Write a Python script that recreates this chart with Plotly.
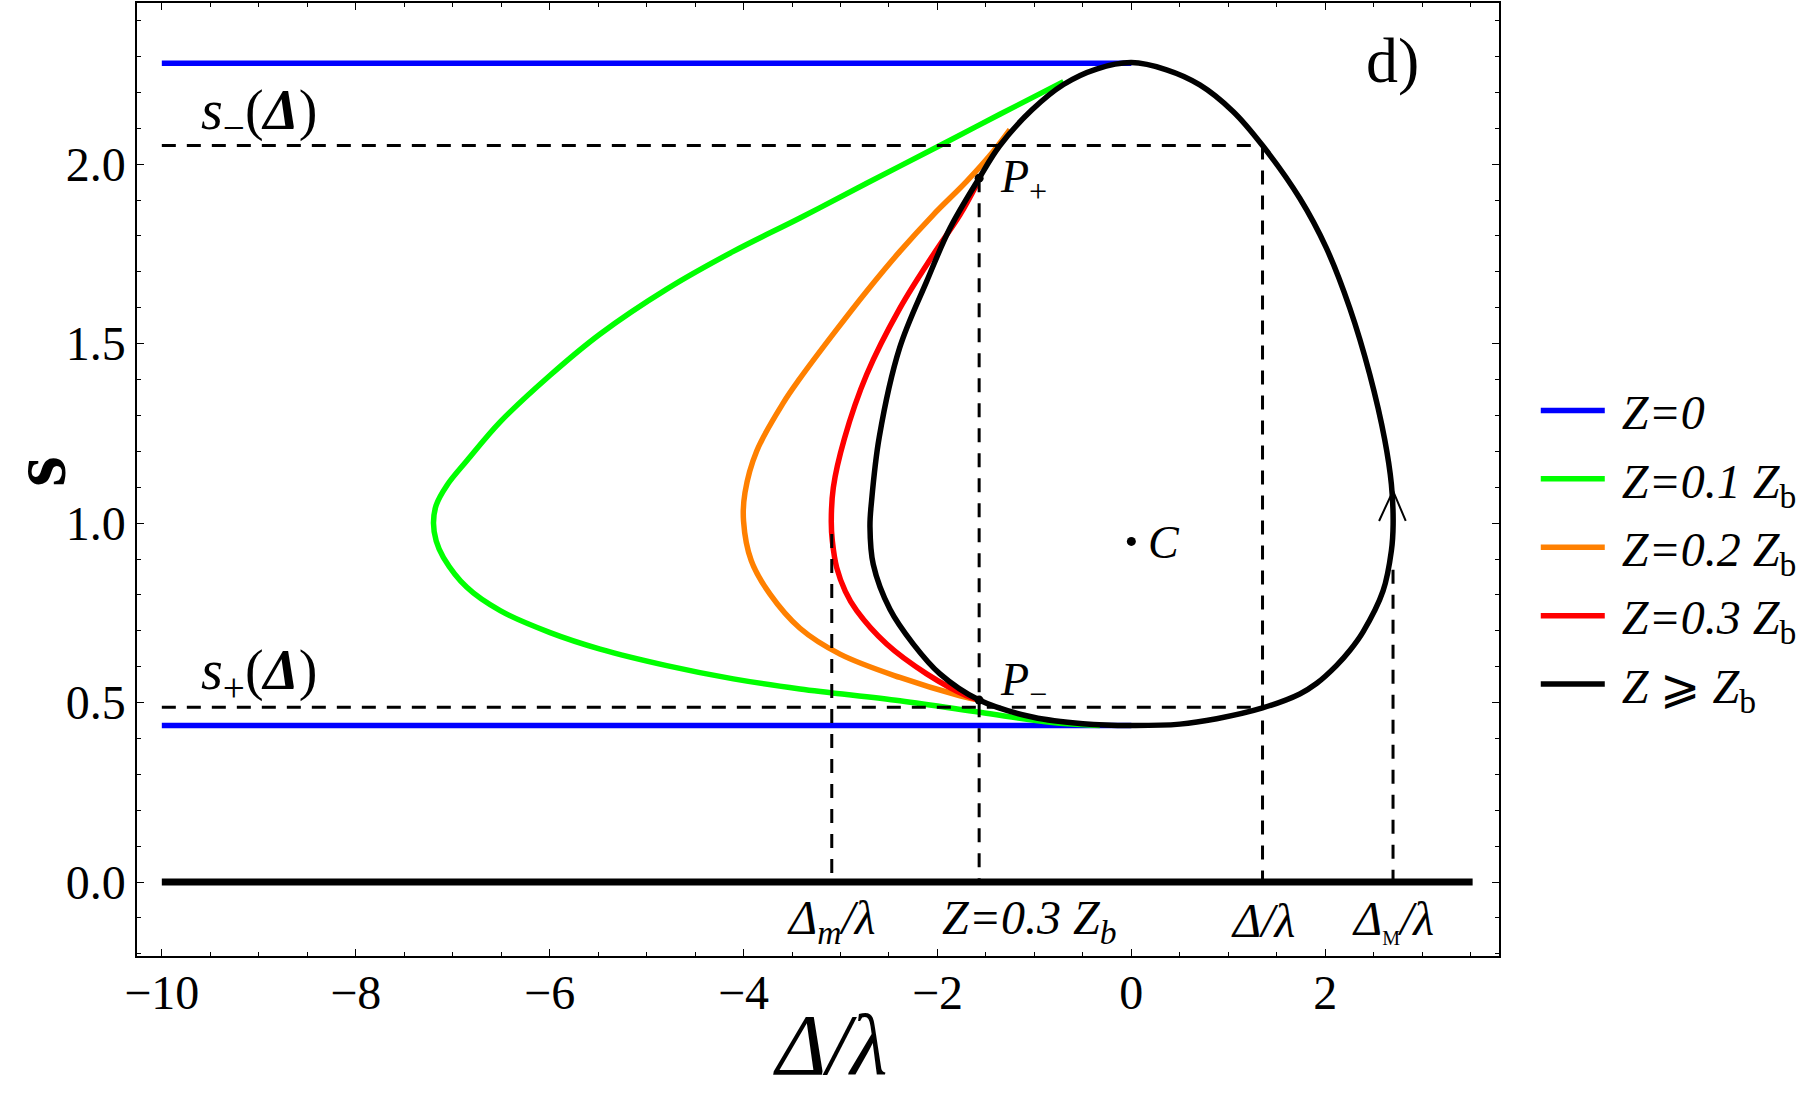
import plotly.graph_objects as go

# values (x = Delta/lambda, s)
blue_x = [-10.0, 0.0, None, -10.0, 0.0]
blue_s = [2.281, 2.281, None, 0.436, 0.436]

green_x = [-0.70, -1.356, -1.974, -2.73, -3.418, -4.105, -4.792, -5.479, -5.995, -6.51,
           -6.85, -7.06, -7.17, -7.198, -7.17, -7.095, -6.854, -6.51, -5.995,
           -5.479, -4.792, -4.105, -3.418, -2.387, -1.562, -0.84, -0.325]
green_s = [2.230, 2.139, 2.052, 1.947, 1.850, 1.757, 1.652, 1.527, 1.412, 1.282,
           1.175, 1.105, 1.050, 1.000, 0.950, 0.904, 0.821, 0.756, 0.695,
           0.649, 0.603, 0.566, 0.538, 0.505, 0.473, 0.445, 0.436]

orange_x = [-1.253, -1.425, -1.699, -2.043, -2.387, -2.73, -3.074, -3.418, -3.59, -3.864,
            -3.985, -4.0, -3.92, -3.727, -3.418, -3.005, -2.387, -1.768, -1.57]
orange_s = [2.096, 2.035, 1.952, 1.859, 1.757, 1.646, 1.527, 1.403, 1.335, 1.201,
            1.085, 1.006, 0.895, 0.802, 0.707, 0.635, 0.570, 0.519, 0.507]

red_x = [-1.596, -1.768, -2.043, -2.387, -2.73, -2.96, -3.074, -3.095, -3.084, -3.039,
         -2.95, -2.833, -2.524, -2.111, -1.70, -1.57]
red_s = [1.943, 1.859, 1.748, 1.599, 1.414, 1.235, 1.099, 1.006, 0.950, 0.876,
         0.810, 0.756, 0.663, 0.580, 0.519, 0.507]

black_x = [0.0, -0.36, -0.70, -1.03, -1.356, -1.57, -1.87, -2.11, -2.39, -2.60,
           -2.68, -2.696, -2.662, -2.49, -2.249, -1.974, -1.57, -1.01, -0.5,
           0.0, 0.5, 0.88, 1.353, 1.737, 1.909, 2.115, 2.253, 2.39, 2.596, 2.682, 2.70,
           2.682, 2.613, 2.459, 2.253, 2.012, 1.737, 1.353, 1.049, 0.706, 0.363, 0.0]
black_s = [2.283, 2.265, 2.222, 2.150, 2.052, 1.961, 1.822, 1.674, 1.488, 1.240,
           1.060, 0.990, 0.885, 0.760, 0.663, 0.580, 0.507, 0.459, 0.441,
           0.436, 0.440, 0.455, 0.485, 0.524, 0.553, 0.603, 0.645, 0.697, 0.811, 0.923, 0.997,
           1.108, 1.233, 1.414, 1.599, 1.766, 1.905, 2.052, 2.147, 2.221, 2.263, 2.283]

base_x = [-10.0, 3.52]
base_s = [0.0, 0.0]

s_minus = 2.052
s_plus = 0.487
d_m = -3.09
d_p = -1.57
d_lam = 1.353
d_M = 2.699
p_top = 1.961
p_bot = 0.507
dm_top = 0.97
dM_top = 0.87

arrow_x = [2.555, 2.699, 2.83]
arrow_s = [1.006, 1.09, 1.006]

dots_x = [d_p, d_p, 0.0]
dots_s = [p_top, p_bot, 0.949]

x_ticks = [-10, -8, -6, -4, -2, 0, 2]
y_ticks = [0.0, 0.5, 1.0, 1.5, 2.0]

FONT = "Liberation Serif, Times New Roman, serif"
NB = "\u00a0"

fig = go.Figure()

curves = [
    (blue_x, blue_s, "#0000FF", NB + "<i>Z=0</i>"),
    (green_x, green_s, "#00FF00", NB + "<i>Z=0.1 Z</i><sub>b</sub>"),
    (orange_x, orange_s, "#FF8000", NB + "<i>Z=0.2 Z</i><sub>b</sub>"),
    (red_x, red_s, "#FF0000", NB + "<i>Z=0.3 Z</i><sub>b</sub>"),
    (black_x, black_s, "#000000", NB + "<i>Z</i> ⩾ <i>Z</i><sub>b</sub>"),
]
for i, (cx, cs, col, name) in enumerate(curves):
    fig.add_trace(go.Scatter(
        x=cx, y=cs, mode="lines", name=name, legendgroup=str(i),
        line=dict(color=col, width=5.5, shape="spline", smoothing=1.0),
    ))

fig.add_trace(go.Scatter(x=base_x, y=base_s, mode="lines", showlegend=False,
                         line=dict(color="black", width=7)))

# dashed guide lines
dash_x = [-10.0, d_lam, None, -10.0, d_lam, None, d_m, d_m, None, d_p, d_p, None,
          d_lam, d_lam, None, d_M, d_M]
dash_s = [s_minus, s_minus, None, s_plus, s_plus, None, dm_top, 0.0, None, p_top, 0.0, None,
          s_minus, 0.0, None, dM_top, 0.0]
fig.add_trace(go.Scatter(x=dash_x, y=dash_s, mode="lines", showlegend=False,
                         line=dict(color="black", width=3, dash="14px,11px")))

fig.add_trace(go.Scatter(x=arrow_x, y=arrow_s, mode="lines", showlegend=False,
                         line=dict(color="black", width=2)))
fig.add_trace(go.Scatter(x=dots_x, y=dots_s, mode="markers", showlegend=False,
                         marker=dict(color="black", size=9)))


def label(x, y, text, size=48, anchor="left", ref="data", angle=0, yanchor="middle"):
    xr, yr = ("x", "y") if ref == "data" else ("paper", "paper")
    fig.add_annotation(x=x, y=y, xref=xr, yref=yr, text=text, showarrow=False,
                       xanchor=anchor, yanchor=yanchor, textangle=angle,
                       font=dict(family=FONT, size=size, color="black"))


label(-9.62, 2.14, "<i>s</i><sub>−</sub>(<b><i>Δ</i></b>)", 56)
label(-9.62, 0.58, "<i>s</i><sub>+</sub>(<b><i>Δ</i></b>)", 56)
label(-1.38, 1.955, "<i>P</i><sub>+</sub>", 46)
label(-1.38, 0.555, "<i>P</i><sub>−</sub>", 46)
label(0.15, 0.945, "<i>C</i>", 46)
label(2.69, 2.29, "d)", 64, "center")
label(d_m, -0.108, "<i>Δ</i><sub><i>m</i></sub><i>/λ</i>", 48, "center")
label(-1.05, -0.108, "<i>Z=0.3 Z</i><sub><i>b</i></sub>", 48, "center")
label(d_lam, -0.108, "<i>Δ/λ</i>", 48, "center")
label(d_M, -0.108, "<i>Δ</i><sub><span style='font-size:20px'>M</span></sub><i>/λ</i>", 48, "center")

# axis titles
label(0.509, -0.1455, "<i>Δ/λ</i>", 86, "center", ref="paper", yanchor="bottom")
label(-0.072, 0.508, "<b>s</b>", 78, "center", ref="paper", angle=-90)

axis_common = dict(
    showline=True, linecolor="black", linewidth=1.5, mirror="ticks",
    ticks="inside", ticklen=7, tickwidth=1.3, tickcolor="black",
    showgrid=False, zeroline=False,
    tickfont=dict(family=FONT, size=48, color="black"),
)
fig.update_xaxes(
    range=[-10.256, 3.792], tickvals=x_ticks, ticklabelstandoff=-6,
    minor=dict(ticks="inside", ticklen=4, dtick=0.5, tick0=0, tickcolor="black"),
    **axis_common,
)
fig.update_yaxes(
    range=[-0.206, 2.449], tickvals=y_ticks, tickformat=".1f",
    minor=dict(ticks="inside", ticklen=4, dtick=0.1, tick0=0, tickcolor="black"),
    **axis_common,
)

fig.update_layout(
    width=1812, height=1095,
    margin=dict(l=137, r=313, t=1, b=139),
    plot_bgcolor="white", paper_bgcolor="white",
    legend=dict(x=1.027, y=0.612, xanchor="left", yanchor="top",
                font=dict(family=FONT, size=48, color="black"),
                itemwidth=64, tracegroupgap=3, bgcolor="rgba(0,0,0,0)"),
)

# page body has a default 8px margin; drop it so the figure sits at the corner
fig.write_html("out.html", config={"displayModeBar": False},
               post_script="document.body.style.margin='0';")
